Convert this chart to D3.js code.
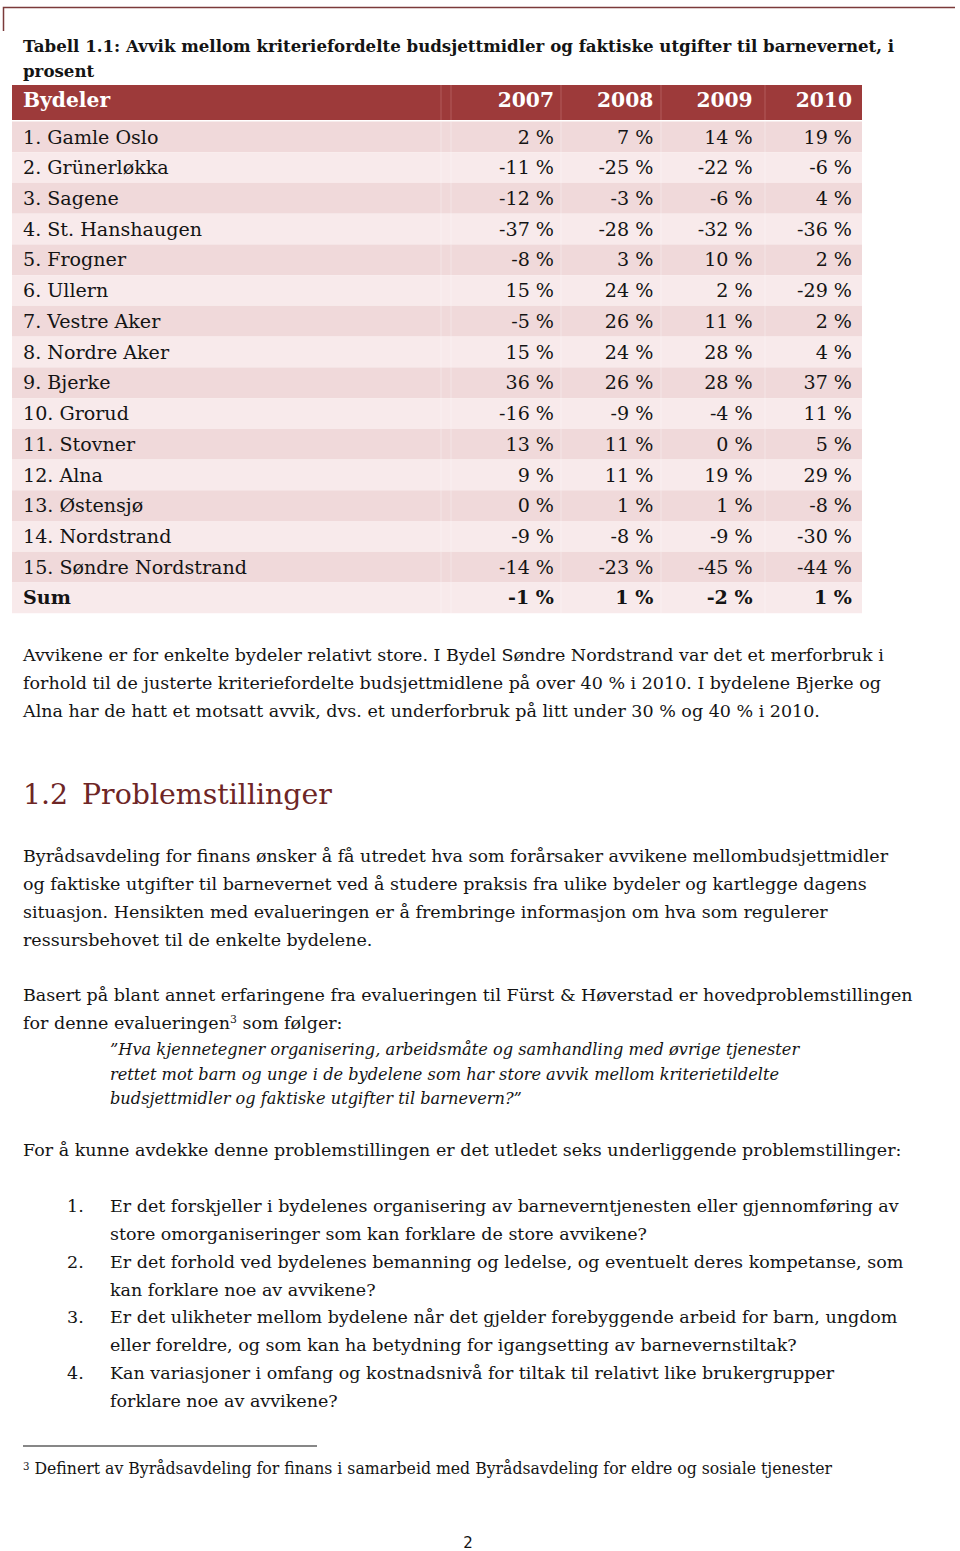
<!DOCTYPE html>
<html>
<head>
<meta charset="utf-8">
<style>
  body { margin: 0; background: #fff; }
  svg text { font-family: "DejaVu Serif", "Liberation Serif", serif; fill: #141414; }
</style>
</head>
<body>
<svg width="960" height="1551"></svg>
<script src="https://d3js.org/d3.v7.min.js"></script>
<script>

// table data
var caption = ["Tabell 1.1: Avvik mellom kriteriefordelte budsjettmidler og faktiske utgifter til barnevernet, i",
               "prosent"];
var headLabel = "Bydeler";
var years = ["2007", "2008", "2009", "2010"];
var districts = ["1. Gamle Oslo", "2. Grünerløkka", "3. Sagene", "4. St. Hanshaugen", "5. Frogner",
                 "6. Ullern", "7. Vestre Aker", "8. Nordre Aker", "9. Bjerke", "10. Grorud",
                 "11. Stovner", "12. Alna", "13. Østensjø", "14. Nordstrand", "15. Søndre Nordstrand"];
var v2007 = [2, -11, -12, -37, -8, 15, -5, 15, 36, -16, 13, 9, 0, -9, -14];
var v2008 = [7, -25, -3, -28, 3, 24, 26, 24, 26, -9, 11, 11, 1, -8, -23];
var v2009 = [14, -22, -6, -32, 10, 2, 11, 28, 28, -4, 0, 19, 1, -9, -45];
var v2010 = [19, -6, 4, -36, 2, -29, 2, 4, 37, 11, 5, 29, -8, -30, -44];
var sumLabel = "Sum";
var sums = [-1, 1, -2, 1];

// body text, one entry per printed line
var para1 = ["Avvikene er for enkelte bydeler relativt store. I Bydel Søndre Nordstrand var det et merforbruk i",
             "forhold til de justerte kriteriefordelte budsjettmidlene på over 40 % i 2010. I bydelene Bjerke og",
             "Alna har de hatt et motsatt avvik, dvs. et underforbruk på litt under 30 % og 40 % i 2010."];
var heading = ["1.2", "Problemstillinger"];
var para2 = ["Byrådsavdeling for finans ønsker å få utredet hva som forårsaker avvikene mellombudsjettmidler",
             "og faktiske utgifter til barnevernet ved å studere praksis fra ulike bydeler og kartlegge dagens",
             "situasjon. Hensikten med evalueringen er å frembringe informasjon om hva som regulerer",
             "ressursbehovet til de enkelte bydelene."];
var para3 = ["Basert på blant annet erfaringene fra evalueringen til Fürst & Høverstad er hovedproblemstillingen",
             "for denne evalueringen|3| som følger:"];
var quote = ["”Hva kjennetegner organisering, arbeidsmåte og samhandling med øvrige tjenester",
             "rettet mot barn og unge i de bydelene som har store avvik mellom kriterietildelte",
             "budsjettmidler og faktiske utgifter til barnevern?”"];
var para4 = ["For å kunne avdekke denne problemstillingen er det utledet seks underliggende problemstillinger:"];
var listItems = [
  ["Er det forskjeller i bydelenes organisering av barneverntjenesten eller gjennomføring av",
   "store omorganiseringer som kan forklare de store avvikene?"],
  ["Er det forhold ved bydelenes bemanning og ledelse, og eventuelt deres kompetanse, som",
   "kan forklare noe av avvikene?"],
  ["Er det ulikheter mellom bydelene når det gjelder forebyggende arbeid for barn, ungdom",
   "eller foreldre, og som kan ha betydning for igangsetting av barnevernstiltak?"],
  ["Kan variasjoner i omfang og kostnadsnivå for tiltak til relativt like brukergrupper",
   "forklare noe av avvikene?"]
];
var footnote = "Definert av Byrådsavdeling for finans i samarbeid med Byrådsavdeling for eldre og sosiale tjenester";
var pageNo = "2";

var svg = d3.select("svg");
var fmt = function(v) { return v + " %"; };

// pick a font size so that a sample line gets the printed width
function fitSize(str, width, weight, style) {
  var t = svg.append("text")
      .attr("font-size", 100)
      .attr("font-weight", weight || null)
      .attr("font-style", style || null)
      .text(str);
  var w = t.node().getComputedTextLength();
  t.remove();
  return 100 * width / w;
}

var bodySize = fitSize(para1[0], 861);
var capSize = fitSize(caption[0], 872, "bold");
var quoteSize = fitSize(quote[0], 690, null, "italic");
var headSize = fitSize(heading[1], 250);
var cellSize = fitSize(districts[14], 224);
var noteSize = fitSize("3 " + footnote, 813);

// page frame line at top
svg.append("path")
    .attr("d", "M3.5,31V7.5H955")
    .attr("fill", "none")
    .attr("stroke", "#7b3a3a")
    .attr("stroke-width", 1.5);

// caption
svg.selectAll("text.cap")
  .data(caption)
  .enter().append("text")
    .attr("class", "cap")
    .attr("x", 23)
    .attr("y", function(d, i) { return 52 + i * 25; })
    .attr("font-size", capSize)
    .attr("font-weight", "bold")
    .text(function(d) { return d; });

// table
var rows = districts.map(function(d, i) {
  return { label: d, vals: [v2007[i], v2008[i], v2009[i], v2010[i]], bold: false };
});
rows.push({ label: sumLabel, vals: sums, bold: true });

var tableLeft = 12, tableRight = 862;
var y = d3.scaleBand()
    .domain(d3.range(rows.length))
    .range([121.5, 612])
    .paddingInner(0.04);

// right edge of each year column
var xCol = d3.scalePoint()
    .domain(years)
    .range([554, 852]);

var sepX = [441, 451, 561, 661, 765];

var table = svg.append("g");

table.append("rect")
    .attr("x", tableLeft)
    .attr("y", 85)
    .attr("width", tableRight - tableLeft)
    .attr("height", 35)
    .attr("fill", "#9d3a3a");

table.selectAll("line.hsep")
  .data(sepX)
  .enter().append("line")
    .attr("class", "hsep")
    .attr("x1", function(d) { return d; })
    .attr("x2", function(d) { return d; })
    .attr("y1", 85)
    .attr("y2", 120)
    .attr("stroke", "#b25a5a")
    .attr("stroke-width", 1);

table.append("text")
    .attr("x", 23)
    .attr("y", 107)
    .attr("font-size", cellSize * 1.06)
    .attr("font-weight", "bold")
    .style("fill", "#fff")
    .text(headLabel);

table.selectAll("text.year")
  .data(years)
  .enter().append("text")
    .attr("class", "year")
    .attr("x", function(d) { return xCol(d); })
    .attr("y", 107)
    .attr("text-anchor", "end")
    .attr("font-size", cellSize * 1.06)
    .attr("font-weight", "bold")
    .style("fill", "#fff")
    .text(function(d) { return d; });

var row = table.selectAll("g.row")
  .data(rows)
  .enter().append("g")
    .attr("class", "row")
    .attr("transform", function(d, i) { return "translate(0," + y(i) + ")"; });

row.append("rect")
    .attr("x", tableLeft)
    .attr("width", tableRight - tableLeft)
    .attr("height", y.step())
    .attr("fill", function(d, i) { return i % 2 === 0 ? "#f0d9da" : "#f8eaeb"; });

row.selectAll("line.rsep")
  .data(sepX)
  .enter().append("line")
    .attr("class", "rsep")
    .attr("x1", function(d) { return d; })
    .attr("x2", function(d) { return d; })
    .attr("y1", 0)
    .attr("y2", y.step())
    .attr("stroke", "#fff")
    .attr("stroke-opacity", 0.35);

row.append("text")
    .attr("x", 23)
    .attr("y", 22)
    .attr("font-size", cellSize)
    .attr("font-weight", function(d) { return d.bold ? "bold" : null; })
    .text(function(d) { return d.label; });

row.selectAll("text.val")
  .data(function(d) { return d.vals.map(function(v, j) { return { v: v, year: years[j], bold: d.bold }; }); })
  .enter().append("text")
    .attr("class", "val")
    .attr("x", function(d) { return xCol(d.year); })
    .attr("y", 22)
    .attr("text-anchor", "end")
    .attr("font-size", cellSize)
    .attr("font-weight", function(d) { return d.bold ? "bold" : null; })
    .text(function(d) { return fmt(d.v); });

// helper for blocks of text lines
function lines(data, x, y0, step, size, italic) {
  var t = svg.append("g").selectAll("text")
    .data(data)
    .enter().append("text")
      .attr("x", x)
      .attr("y", function(d, i) { return y0 + i * step; })
      .attr("font-size", size)
      .attr("font-style", italic ? "italic" : null);
  // "|3|" marks a superscript footnote number
  t.each(function(d) {
    var parts = d.split("|");
    var el = d3.select(this);
    parts.forEach(function(p, k) {
      var s = el.append("tspan").text(p);
      if (k % 2 === 1) s.attr("font-size", size * 0.62).attr("dy", -6);
      else if (k > 0) s.attr("dy", 6);
    });
  });
  return t;
}

lines(para1, 23, 661, 28, bodySize);

svg.append("text")
    .attr("x", 23).attr("y", 804)
    .attr("font-size", headSize)
    .style("fill", "#6e2626")
    .text(heading[0]);
svg.append("text")
    .attr("x", 82).attr("y", 804)
    .attr("font-size", headSize)
    .style("fill", "#6e2626")
    .text(heading[1]);

lines(para2, 23, 862, 28, bodySize);
lines(para3, 23, 1001, 28, bodySize);
lines(quote, 110, 1055, 24.5, quoteSize, true);
lines(para4, 23, 1156, 28, bodySize);

listItems.forEach(function(item, i) {
  var y0 = 1212 + i * 55.7;
  svg.append("text")
      .attr("x", 67).attr("y", y0)
      .attr("font-size", bodySize)
      .text((i + 1) + ".");
  lines(item, 110, y0, 28, bodySize);
});

// footnote
svg.append("line")
    .attr("x1", 23).attr("x2", 317)
    .attr("y1", 1446).attr("y2", 1446)
    .attr("stroke", "#111")
    .attr("stroke-width", 1.2);

var fn = svg.append("text")
    .attr("x", 23).attr("y", 1474)
    .attr("font-size", noteSize);
fn.append("tspan").attr("font-size", noteSize * 0.65).attr("dy", -4).text("3");
fn.append("tspan").attr("dy", 4).text(" " + footnote);

svg.append("text")
    .attr("x", 468).attr("y", 1548)
    .attr("text-anchor", "middle")
    .attr("font-size", 15)
    .style("font-family", "'DejaVu Sans', sans-serif")
    .text(pageNo);

</script>
</body>
</html>
